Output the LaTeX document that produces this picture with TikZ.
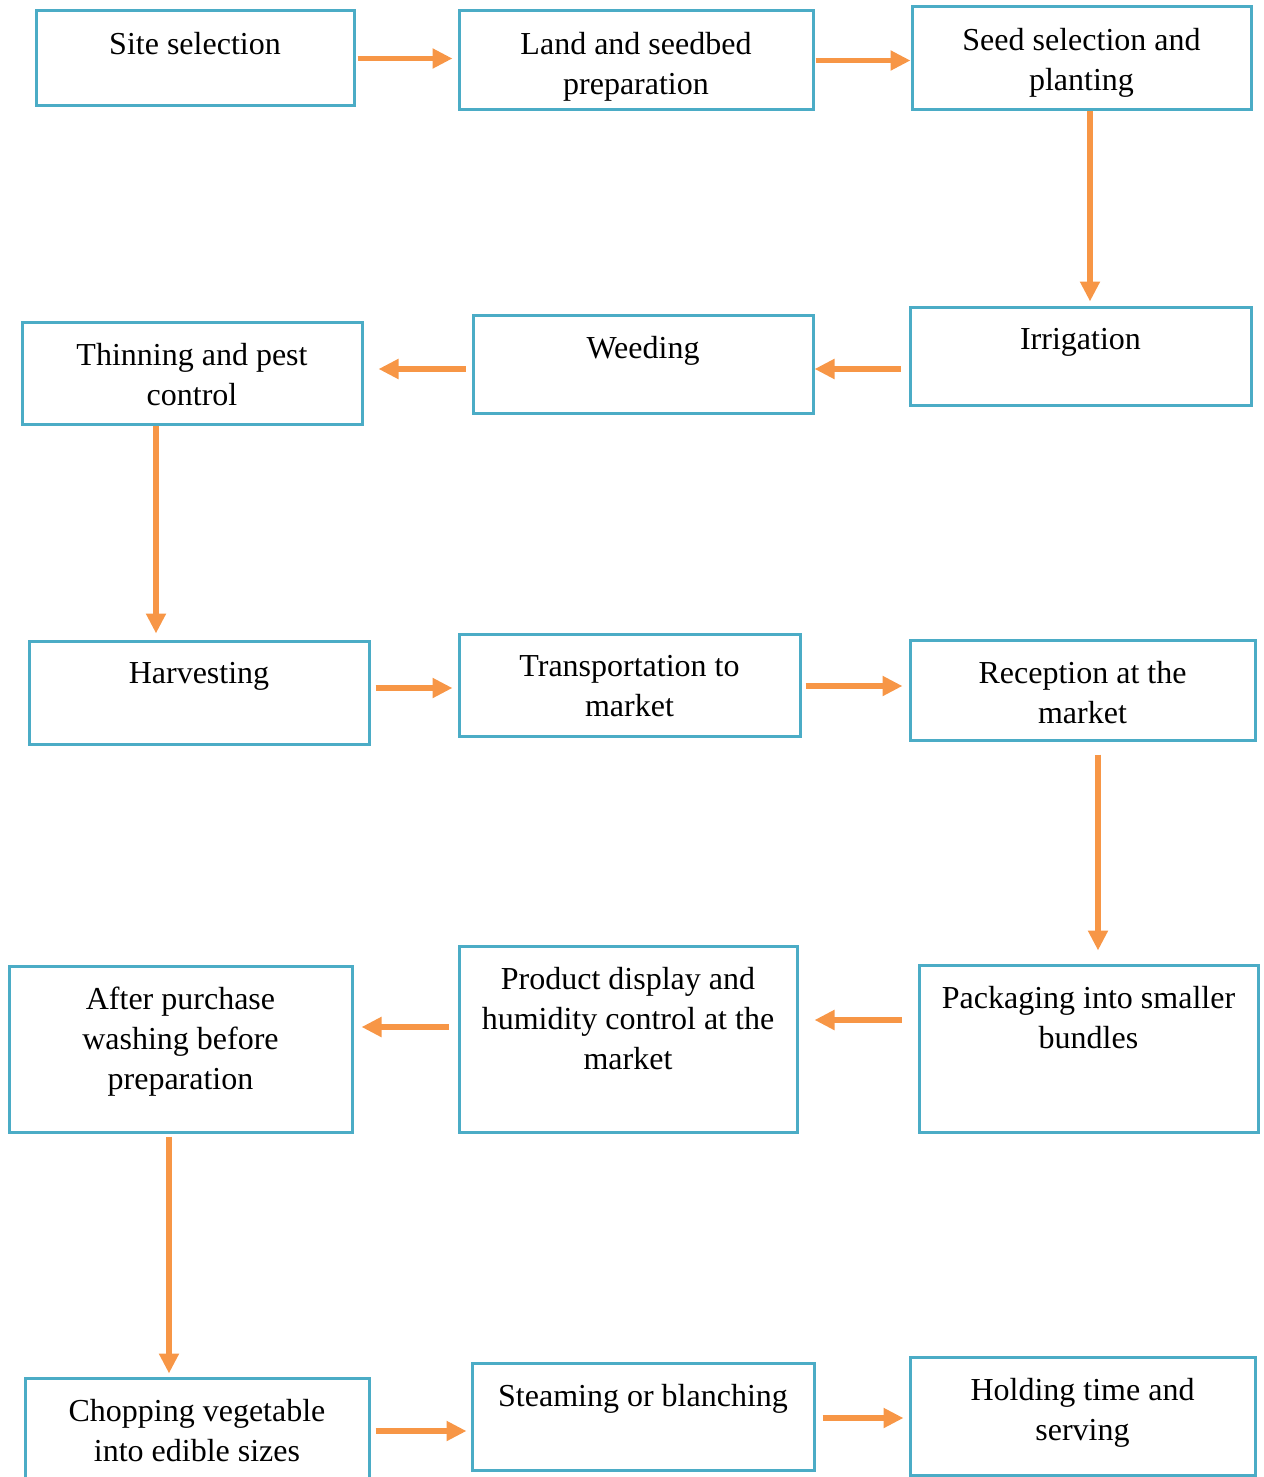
\documentclass[tikz,border=0pt]{standalone}
\usepackage{fontspec}
\setmainfont{Liberation Serif}
\usepackage{tikz}
\usetikzlibrary{arrows.meta}
\usetikzlibrary{calc}
\definecolor{boxblue}{HTML}{4BACC6}
\definecolor{arrowor}{HTML}{F79646}

\begin{document}
\begin{tikzpicture}[x=0.5pt,y=-0.5pt]
% — styles ––––––––––––––––––––––––––
\tikzstyle{box} =[draw=boxblue,line width=1.5pt,rectangle,inner sep=0pt]
\tikzstyle{txt} =[anchor=north,inner sep=0pt,align=center,font=\fontsize{16}{20}\selectfont]
\tikzstyle{flow}=[draw=arrowor,line width=2.6pt,-{Triangle[length=10pt,width=9.5pt]}]

\useasboundingbox (0,0) rectangle (1263,1477);

% --- row 1 ----------------------------------------------------
\node[box,minimum width=159pt,minimum height=47.5pt] (site) at (195,58.5) {};
\node[box,minimum width=177pt,minimum height=49.5pt] (land) at (636,60.5) {};
\node[box,minimum width=169.5pt,minimum height=51.5pt] (seed) at (1081.5,58.5) {};
\node[txt] (siteT) at ([yshift=-11pt]site.north) {Site selection};
\node[txt] (landT) at ([yshift=-11pt]land.north) {Land and seedbed\\preparation};
\node[txt] (seedT) at ([yshift=-11pt]seed.north) {Seed selection and\\planting};

% --- row 2 ----------------------------------------------------
\node[box,minimum width=170.5pt,minimum height=49pt] (irr) at (1080.5,356) {};
\node[box,minimum width=170pt,minimum height=49pt] (weed) at (643,364) {};
\node[box,minimum width=170pt,minimum height=51pt] (thin) at (192,373) {};
\node[txt] (irrT) at ([yshift=-11pt]irr.north) {Irrigation};
\node[txt] (weedT) at ([yshift=-11pt]weed.north) {Weeding};
\node[txt] (thinT) at ([yshift=-11pt]thin.north) {Thinning and pest\\control};

% --- row 3 ----------------------------------------------------
\node[box,minimum width=170pt,minimum height=51.5pt] (harv) at (199,692.5) {};
\node[box,minimum width=170.5pt,minimum height=51pt] (trans) at (629.5,685) {};
\node[box,minimum width=172.5pt,minimum height=50pt] (recep) at (1082.5,690) {};
\node[txt] (harvT) at ([yshift=-11pt]harv.north) {Harvesting};
\node[txt] (transT) at ([yshift=-11pt]trans.north) {Transportation to\\market};
\node[txt] (recepT) at ([yshift=-11pt]recep.north) {Reception at the\\market};

% --- row 4 ----------------------------------------------------
\node[box,minimum width=169.5pt,minimum height=83.5pt] (pack) at (1088.5,1048.5) {};
\node[box,minimum width=169pt,minimum height=93pt] (prod) at (628,1039) {};
\node[box,minimum width=171.5pt,minimum height=83pt] (after) at (180.5,1049) {};
\node[txt] (packT) at ([yshift=-11pt]pack.north) {Packaging into smaller\\bundles};
\node[txt] (prodT) at ([yshift=-11pt]prod.north) {Product display and\\humidity control at the\\market};
\node[txt] (afterT) at ([yshift=-11pt]after.north) {After purchase\\washing before\\preparation};

% --- row 5 ----------------------------------------------------
\node[box,minimum width=172pt,minimum height=55pt] (chop) at (197,1433) {};
\node[box,minimum width=171pt,minimum height=53.5pt] (steam) at (643,1416.5) {};
\node[box,minimum width=172.5pt,minimum height=59pt] (hold) at (1082.5,1416) {};
\node[txt] (chopT) at ([yshift=-11pt]chop.north) {Chopping vegetable\\into edible sizes};
\node[txt] (steamT) at ([yshift=-11pt]steam.north) {Steaming or blanching};
\node[txt] (holdT) at ([yshift=-11pt]hold.north) {Holding time and\\serving};

% --- arrows ---------------------------------------------------
\draw[flow,shorten <=1pt,shorten >=2.5pt] (site.east) -- (site.east -| land.west);
\draw[flow,shorten <=0.5pt,shorten >=0pt] (land.east) -- (land.east -| seed.west);
\coordinate (a3) at ([xshift=4.25pt]seed.south);
\draw[flow,shorten >=2pt] (a3) -- (a3 |- irr.north);
\draw[flow,shorten <=4pt,shorten >=0pt] ([yshift=-6.5pt]irr.west) -- ([yshift=-2.5pt]weed.east);
\draw[flow,shorten <=3pt,shorten >=7.5pt] ([yshift=-2.5pt]weed.west) -- ([yshift=2pt]thin.east);
\coordinate (a6) at ([xshift=-18pt]thin.south);
\draw[flow,shorten >=3pt] (a6) -- (a6 |- harv.north);

\draw[flow,shorten <=2.5pt,shorten >=2.5pt] ([yshift=2.25pt]harv.east) -- ([yshift=-1.5pt]trans.west);
\draw[flow,shorten <=2pt,shorten >=3pt] ([yshift=-0.5pt]trans.east) -- ([yshift=2pt]recep.west);
\coordinate (a9) at ([xshift=7.75pt]recep.south);
\draw[flow,shorten <=6.5pt,shorten >=6.5pt] (a9) -- (a9 |- pack.north);
\draw[flow,shorten <=8pt,shorten >=8pt] ([yshift=14.25pt]pack.west) -- ([yshift=9.5pt]prod.east);
\draw[flow,shorten <=4.5pt,shorten >=4pt] ([yshift=6pt]prod.west) -- ([yshift=11pt]after.east);
\coordinate (a12) at ([xshift=-5.75pt]after.south);
\draw[flow,shorten <=1.5pt,shorten >=1.5pt] (a12) -- (a12 |- chop.north);

\draw[flow,shorten <=2.5pt,shorten >=2pt] ([yshift=1pt]chop.east) -- ([yshift=-7.25pt]steam.west);
\draw[flow,shorten <=3.5pt,shorten >=2.5pt] ([yshift=-0.75pt]steam.east) -- ([yshift=-1pt]hold.west);

\end{tikzpicture}
\end{document}
